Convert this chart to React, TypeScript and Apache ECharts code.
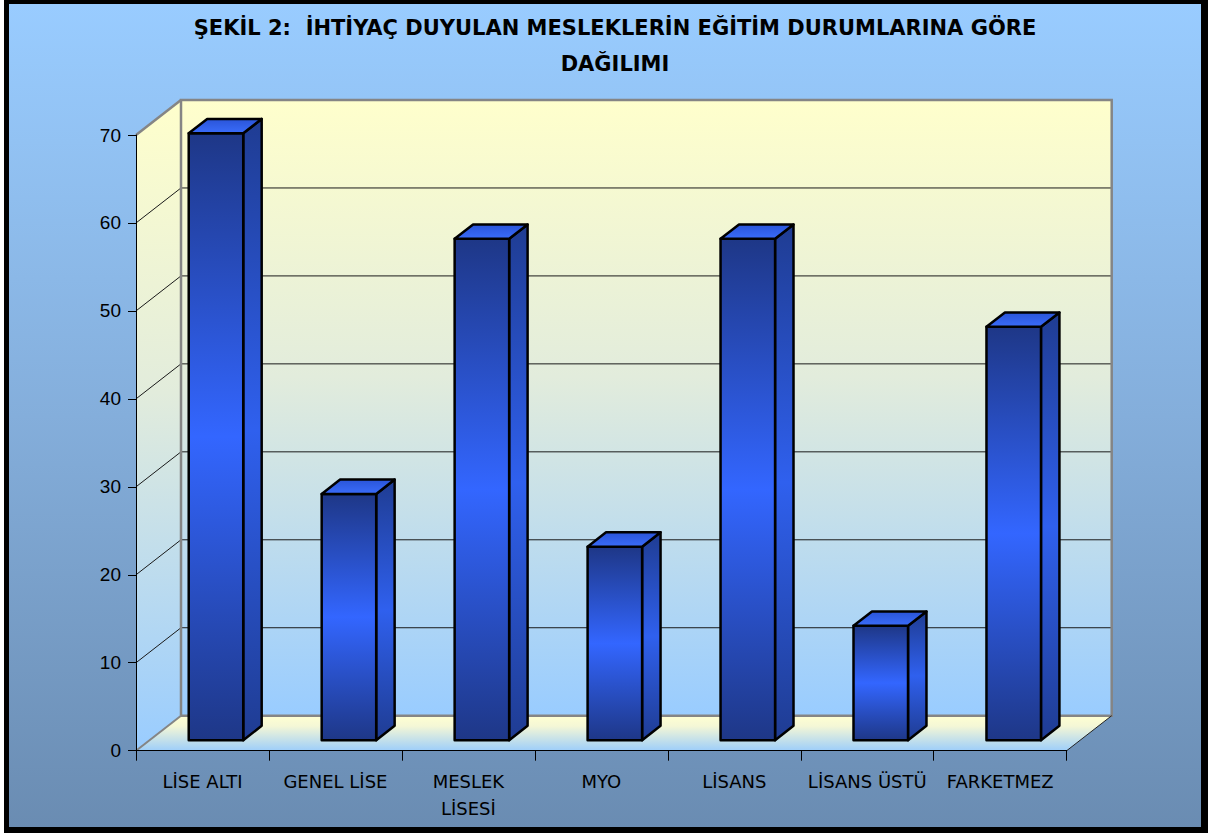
import React, { useEffect, useRef } from 'react';
import * as echarts from 'echarts';

const titleLines = ['ŞEKİL 2:  İHTİYAÇ DUYULAN MESLEKLERİN EĞİTİM DURUMLARINA GÖRE', 'DAĞILIMI'];
const categories = ['LİSE ALTI', 'GENEL LİSE', 'MESLEK LİSESİ', 'MYO', 'LİSANS', 'LİSANS ÜSTÜ', 'FARKETMEZ'];
const values = [69, 28, 57, 22, 57, 13, 47];
const yMin = 0;
const yMax = 70;
const yInterval = 10;
const yTicks = [0, 10, 20, 30, 40, 50, 60, 70];

// 3D projection of depth
const DX = 45;
const DY = -35;
const BAR_FRONT = 0.3;
const BAR_BACK = 0.71;
const BAR_WIDTH = 0.41;

function vgrad(stops: [number, string][]) {
  return new echarts.graphic.LinearGradient(0, 0, 0, 1, stops.map(([offset, color]) => ({ offset, color })));
}

export default function App() {
  const ref = useRef<HTMLDivElement>(null);
  useEffect(() => {
    if (!ref.current) return;
    const chart = echarts.init(ref.current, undefined, { renderer: 'svg' });

    const wallsRender = (params: any, api: any) => {
      const cs = params.coordSys;
      const xL = cs.x;
      const xR = cs.x + cs.width;
      const y0 = api.coord([0, yMin])[1];
      const yT = api.coord([0, yMax])[1];
      const children: any[] = [];
      const wallGrad = () => vgrad([[0, '#FFFFCC'], [0.45, '#E2ECDC'], [1, '#99CCFF']]);
      children.push({
        type: 'polygon',
        shape: { points: [[xL + DX, yT + DY], [xR + DX, yT + DY], [xR + DX, y0 + DY], [xL + DX, y0 + DY]] },
        style: { fill: wallGrad() },
        silent: true,
      });
      children.push({
        type: 'polygon',
        shape: { points: [[xL, yT], [xL + DX, yT + DY], [xL + DX, y0 + DY], [xL, y0]] },
        style: { fill: wallGrad() },
        silent: true,
      });
      children.push({
        type: 'polygon',
        shape: { points: [[xL + DX, y0 + DY], [xR + DX, y0 + DY], [xR, y0], [xL, y0]] },
        style: { fill: vgrad([[0, '#FFFFD2'], [0.3, '#F4F7D6'], [1, '#9ECEFA']]) },
        silent: true,
      });
      yTicks.forEach((t) => {
        if (t <= yMin || t >= yMax) return;
        const yy = api.coord([0, t])[1];
        children.push({
          type: 'line',
          shape: { x1: xL + DX, y1: yy + DY, x2: xR + DX, y2: yy + DY },
          style: { stroke: '#1a1a1a', lineWidth: 1 },
          silent: true,
        });
        children.push({
          type: 'line',
          shape: { x1: xL, y1: yy, x2: xL + DX, y2: yy + DY },
          style: { stroke: '#1a1a1a', lineWidth: 1 },
          silent: true,
        });
      });
      children.push({
        type: 'polyline',
        shape: { points: [[xL + DX, y0 + DY], [xL + DX, yT + DY], [xR + DX, yT + DY], [xR + DX, y0 + DY], [xL + DX, y0 + DY]] },
        style: { stroke: '#858585', lineWidth: 2.5, fill: null },
        silent: true,
      });
      children.push({
        type: 'line',
        shape: { x1: xL, y1: yT, x2: xL + DX, y2: yT + DY },
        style: { stroke: '#858585', lineWidth: 2.5 },
        silent: true,
      });
      children.push({
        type: 'line',
        shape: { x1: xL, y1: y0, x2: xL + DX, y2: y0 + DY },
        style: { stroke: '#858585', lineWidth: 2 },
        silent: true,
      });
      children.push({
        type: 'line',
        shape: { x1: xR, y1: y0, x2: xR + DX, y2: y0 + DY },
        style: { stroke: '#222', lineWidth: 1 },
        silent: true,
      });
      return { type: 'group', children };
    };

    const barsRender = (params: any, api: any) => {
      const idx = api.value(0);
      const v = api.value(1);
      const base = api.coord([idx, 0]);
      const top = api.coord([idx, v]);
      const band = api.size([1, 0])[0];
      const w = band * BAR_WIDTH;
      const fx = base[0] + DX * BAR_FRONT - w / 2;
      const fy0 = base[1] + DY * BAR_FRONT;
      const fy1 = top[1] + DY * BAR_FRONT;
      const d = BAR_BACK - BAR_FRONT;
      const ddx = DX * d;
      const ddy = DY * d;
      const stroke = { stroke: '#000', lineWidth: 2.5, lineJoin: 'round' };
      return {
        type: 'group',
        children: [
          {
            type: 'polygon',
            shape: { points: [[fx + w, fy1], [fx + w + ddx, fy1 + ddy], [fx + w + ddx, fy0 + ddy], [fx + w, fy0]] },
            style: { fill: vgrad([[0, '#1F3C92'], [0.5, '#2F60EE'], [1, '#1F3C92']]), ...stroke },
          },
          {
            type: 'polygon',
            shape: { points: [[fx, fy1], [fx + w, fy1], [fx + w, fy0], [fx, fy0]] },
            style: { fill: vgrad([[0, '#1E3787'], [0.5, '#3366FF'], [1, '#1E3787']]), ...stroke },
          },
          {
            type: 'polygon',
            shape: { points: [[fx, fy1], [fx + ddx, fy1 + ddy], [fx + w + ddx, fy1 + ddy], [fx + w, fy1]] },
            style: { fill: vgrad([[0, '#2A55D8'], [1, '#3A6CFA']]), ...stroke },
          },
        ],
      };
    };

    chart.setOption({
      animation: false,
      backgroundColor: 'transparent',
      title: {
        text: titleLines.join('\n'),
        left: 610,
        top: 5,
        textAlign: 'center',
        textStyle: {
          fontFamily: 'DejaVu Sans',
          fontWeight: 'bold',
          fontSize: 21,
          lineHeight: 36,
          color: '#000',
        },
      },
      grid: { left: 136, top: 135, right: 141.3, bottom: 83.3 },
      xAxis: {
        type: 'category',
        data: categories,
        z: 5,
        axisLine: { show: true, lineStyle: { color: '#000', width: 1 } },
        axisTick: { show: true, alignWithLabel: false, length: 10, lineStyle: { color: '#000', width: 1 } },
        axisLabel: {
          interval: 0,
          margin: 17,
          fontFamily: 'DejaVu Sans',
          fontSize: 18,
          lineHeight: 27,
          color: '#000',
          formatter: (v: string) => (v === 'MESLEK LİSESİ' ? 'MESLEK\nLİSESİ' : v),
        },
        splitLine: { show: false },
      },
      yAxis: {
        type: 'value',
        min: yMin,
        max: yMax,
        interval: yInterval,
        z: 5,
        axisLine: { show: true, lineStyle: { color: '#000', width: 1 } },
        axisTick: { show: true, length: 8, lineStyle: { color: '#000', width: 1 } },
        axisLabel: { margin: 15, fontFamily: 'Liberation Sans', fontSize: 19, color: '#000' },
        splitLine: { show: false },
      },
      series: [
        {
          type: 'custom',
          name: 'walls',
          z: 1,
          silent: true,
          renderItem: wallsRender,
          data: [[0, 0]],
        },
        {
          type: 'custom',
          name: 'bars',
          z: 2,
          renderItem: barsRender,
          data: values.map((v, i) => [i, v]),
        },
      ],
    });
    return () => chart.dispose();
  }, []);

  return (
    <div style={{ position: 'fixed', left: 0, top: 0, width: 1208, height: 834, background: '#fff' }}>
      <div
        style={{
          position: 'absolute',
          left: 4,
          top: 0,
          width: 1204,
          height: 833,
          boxSizing: 'border-box',
          borderLeft: '5px solid #000',
          borderTop: '4px solid #000',
          borderRight: '7px solid #000',
          borderBottom: '6px solid #000',
          background: 'linear-gradient(to bottom, #99CCFF 0%, #84AEDB 50%, #6A8CB2 100%)',
        }}
      />
      <div ref={ref} style={{ position: 'absolute', left: 0, top: 0, width: 1208, height: 834 }} />
    </div>
  );
}
